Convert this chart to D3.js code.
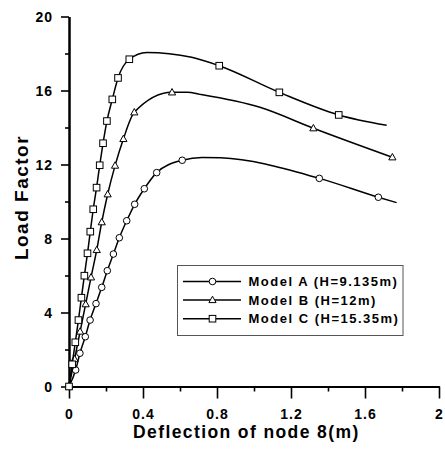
<!DOCTYPE html>
<html><head><meta charset="utf-8">
<script src="https://cdn.jsdelivr.net/npm/d3@7"></script>
<style>body{margin:0;background:#fff}svg{display:block}text{font-family:"Liberation Sans",Arial,sans-serif;font-weight:bold;fill:#000}</style>
</head><body><svg id="c" width="445" height="451"></svg>
<script>
// ---- data ----
const xMajorTicks = [0, 0.4, 0.8, 1.2, 1.6, 2];
const xMinorTicks = [0.2, 0.6, 1.0, 1.4, 1.8];
const yMajorTicks = [0, 4, 8, 12, 16, 20];
const yMinorTicks = [2, 6, 10, 14, 18];
const xTickLabels = ["0", "0.4", "0.8", "1.2", "1.6", "2"];
const yTickLabels = ["0", "4", "8", "12", "16", "20"];
const seriesNames = ["Model A (H=9.135m)", "Model B (H=12m)", "Model C (H=15.35m)"];
const seriesSymbols = ["circle", "triangle", "square"];

// Model A (circles)
const aMarkX = [0, 0.036, 0.059, 0.088, 0.114, 0.146, 0.177, 0.207, 0.24, 0.272, 0.312, 0.355, 0.407, 0.474, 0.612, 1.353, 1.672];
const aMarkY = [0, 0.89, 1.8, 2.69, 3.59, 4.48, 5.36, 6.26, 7.16, 8.04, 8.96, 9.85, 10.69, 11.56, 12.23, 11.25, 10.23];
const aLineX = [0, 0.036, 0.059, 0.088, 0.114, 0.146, 0.177, 0.207, 0.24, 0.272, 0.312, 0.355, 0.407, 0.474, 0.612, 0.72, 0.82, 1.353, 1.672, 1.771];
const aLineY = [0, 0.89, 1.8, 2.69, 3.59, 4.48, 5.36, 6.26, 7.16, 8.04, 8.96, 9.85, 10.69, 11.56, 12.23, 12.38, 12.36, 11.25, 10.23, 9.94];

// Model B (triangles)
const bMarkX = [0, 0.03, 0.06, 0.09, 0.119, 0.15, 0.177, 0.209, 0.249, 0.294, 0.353, 0.557, 1.321, 1.748];
const bMarkY = [0, 1.48, 2.97, 4.45, 5.9, 7.38, 8.88, 10.39, 11.94, 13.38, 14.82, 15.9, 13.96, 12.39];
const bLineX = [0, 0.03, 0.06, 0.09, 0.119, 0.15, 0.177, 0.209, 0.249, 0.294, 0.353, 0.557, 0.64, 0.708, 1.032, 1.321, 1.748];
const bLineY = [0, 1.48, 2.97, 4.45, 5.9, 7.38, 8.88, 10.39, 11.94, 13.38, 14.82, 15.9, 15.9, 15.79, 15.09, 13.96, 12.39];

// Model C (squares)
const cMarkX = [0, 0.017, 0.034, 0.051, 0.067, 0.083, 0.1, 0.115, 0.131, 0.149, 0.166, 0.184, 0.205, 0.234, 0.265, 0.326, 0.812, 1.137, 1.458];
const cMarkY = [0, 1.2, 2.39, 3.59, 4.8, 5.99, 7.2, 8.37, 9.58, 10.75, 11.96, 13.15, 14.35, 15.52, 16.68, 17.69, 17.34, 15.9, 14.68];
const cLineX = [0, 0.017, 0.034, 0.051, 0.067, 0.083, 0.1, 0.115, 0.131, 0.149, 0.166, 0.184, 0.205, 0.234, 0.265, 0.326, 0.42, 0.663, 0.812, 1.137, 1.458, 1.717];
const cLineY = [0, 1.2, 2.39, 3.59, 4.8, 5.99, 7.2, 8.37, 9.58, 10.75, 11.96, 13.15, 14.35, 15.52, 16.68, 17.69, 18.06, 17.8, 17.34, 15.9, 14.68, 14.12];

// ---- drawing ----
const svg = d3.select("#c");
const x = d3.scaleLinear().domain([0, 2]).range([69, 439]);
const y = d3.scaleLinear().domain([0, 20]).range([386.5, 16.5]);

const zip = (xs, ys) => xs.map((v, i) => [v, ys[i]]);
const series = [
  {line: zip(aLineX, aLineY), marks: zip(aMarkX, aMarkY), sym: seriesSymbols[0], name: seriesNames[0]},
  {line: zip(bLineX, bLineY), marks: zip(bMarkX, bMarkY), sym: seriesSymbols[1], name: seriesNames[1]},
  {line: zip(cLineX, cLineY), marks: zip(cMarkX, cMarkY), sym: seriesSymbols[2], name: seriesNames[2]}
];

function drawSymbol(g, sym, cx, cy) {
  if (sym === "circle") {
    g.append("circle").attr("cx", cx).attr("cy", cy).attr("r", 3.3)
      .attr("fill", "#fff").attr("stroke", "#000").attr("stroke-width", 1);
  } else if (sym === "square") {
    g.append("rect").attr("x", cx - 3.3).attr("y", cy - 3.3).attr("width", 6.6).attr("height", 6.6)
      .attr("fill", "#fff").attr("stroke", "#000").attr("stroke-width", 1);
  } else {
    g.append("path").attr("d", `M${cx},${cy - 3.8}L${cx + 3.6},${cy + 2.6}L${cx - 3.6},${cy + 2.6}Z`)
      .attr("fill", "#fff").attr("stroke", "#000").attr("stroke-width", 1);
  }
}

// axes
const xAxisMinor = d3.axisBottom(x).tickValues(xMinorTicks).tickSize(5).tickSizeOuter(0).tickFormat("");
const xAxisMajor = d3.axisBottom(x).tickValues(xMajorTicks).tickSize(12).tickSizeOuter(0)
  .tickFormat((d, i) => xTickLabels[i]).tickPadding(14);
const yAxisMinor = d3.axisLeft(y).tickValues(yMinorTicks).tickSize(4).tickSizeOuter(0).tickFormat("");
const yAxisMajor = d3.axisLeft(y).tickValues(yMajorTicks).tickSize(8).tickSizeOuter(0)
  .tickFormat((d, i) => yTickLabels[i]).tickPadding(8);

function styleAxis(g) {
  g.select(".domain").attr("stroke", "#000").attr("stroke-width", 2);
  g.selectAll(".tick line").attr("stroke", "#000").attr("stroke-width", 1.6);
  g.selectAll("text").attr("font-size", 14).attr("font-family", null).attr("letter-spacing", "1px");
}
svg.append("g").attr("transform", "translate(0,386.5)").call(xAxisMinor).call(styleAxis);
const gx = svg.append("g").attr("transform", "translate(0,386.5)").call(xAxisMajor).call(styleAxis);
gx.selectAll("text").attr("dy", null).attr("y", 32);
svg.append("g").attr("transform", "translate(69,0)").call(yAxisMinor).call(styleAxis);
const gy = svg.append("g").attr("transform", "translate(69,0)").call(yAxisMajor).call(styleAxis);
gy.selectAll("text").attr("dy", "0.36em");

// lines + markers
const line = d3.line().x(d => x(d[0])).y(d => y(d[1])).curve(d3.curveMonotoneX);
series.forEach(s => {
  svg.append("path").attr("d", line(s.line)).attr("fill", "none").attr("stroke", "#000").attr("stroke-width", 1.5);
  const g = svg.append("g");
  s.marks.forEach(p => drawSymbol(g, s.sym, x(p[0]), y(p[1])));
});

// axis titles
svg.append("text").attr("x", 133).attr("y", 437.5).attr("font-size", 17.5).attr("letter-spacing", "1.4px")
  .text("Deflection of node 8(m)");
svg.append("text").attr("transform", "translate(28,197.5) rotate(-90)").attr("text-anchor", "middle")
  .attr("font-size", 19).attr("letter-spacing", "1.5px").text("Load Factor");

// legend
const lg = svg.append("g");
lg.append("rect").attr("x", 177.5).attr("y", 265.5).attr("width", 225.5).attr("height", 70)
  .attr("fill", "#fff").attr("stroke", "#555").attr("stroke-width", 1);
const rowY = [281.5, 300, 318.7];
series.forEach((s, i) => {
  lg.append("line").attr("x1", 183).attr("x2", 241).attr("y1", rowY[i]).attr("y2", rowY[i])
    .attr("stroke", "#000").attr("stroke-width", 1.5);
  drawSymbol(lg, s.sym, 212.5, rowY[i]);
  lg.append("text").attr("x", 248.5).attr("y", rowY[i] + 4.6).attr("font-size", 13)
    .attr("letter-spacing", "1.5px").text(s.name);
});
</script></body></html>
